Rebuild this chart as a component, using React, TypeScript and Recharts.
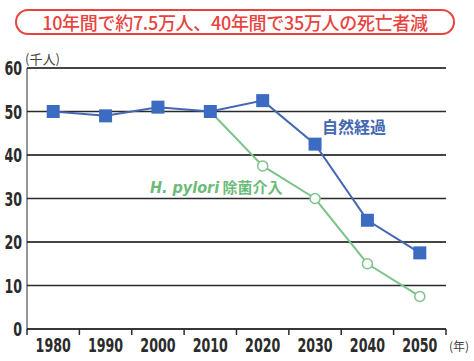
import { LineChart, Line, XAxis, YAxis, CartesianGrid, ReferenceLine } from 'recharts';

const YEARS = ['1980', '1990', '2000', '2010', '2020', '2030', '2040', '2050'];
const NATURAL = [50, 49, 51, 50, 52.5, 42.5, 25, 17.5];
const ERADICATION = [null, null, null, 50, 37.5, 30, 15, 7.5];
const Y_TICKS = [0, 10, 20, 30, 40, 50, 60];

const BLUE = '#4467b2';
const BLUE_MARK = '#3b6cc2';
const GREEN = '#7cc48a';
const RED = '#e8433e';
const INK = '#2b2b2b';
const NUM_FONT = "'DejaVu Sans Condensed', 'DejaVu Sans', sans-serif";
const JP_FONT = "'Noto Sans CJK JP', sans-serif";
const HALF_STEP = 26.2; // half a category band, where the boundary ticks sit

const data = YEARS.map((year, i) => ({ year, natural: NATURAL[i], eradication: ERADICATION[i] }));

const SquareDot = (props: any) => {
  const { cx, cy } = props;
  if (cx == null || cy == null) return null;
  return <rect x={cx - 6.5} y={cy - 6.5} width={13} height={13} fill={BLUE_MARK} />;
};

const YearTick = (props: any) => {
  const { x, y, payload, index } = props;
  const label = String(payload.value);
  return (
    <g>
      <line x1={x - HALF_STEP} y1={y} x2={x - HALF_STEP} y2={y + 6} stroke={INK} strokeWidth={1.5} />
      {index === YEARS.length - 1 && (
        <line x1={x + HALF_STEP} y1={y} x2={x + HALF_STEP} y2={y + 6} stroke={INK} strokeWidth={1.5} />
      )}
      <text
        x={x}
        y={y + 23}
        textAnchor="middle"
        fill={INK}
        fontFamily={NUM_FONT}
        fontWeight={700}
        fontSize={19}
        textLength={label.length * 8.8}
        lengthAdjust="spacingAndGlyphs"
      >
        {label}
      </text>
    </g>
  );
};

const ValueTick = (props: any) => {
  const { x, y, payload } = props;
  const label = String(payload.value);
  return (
    <text
      x={x}
      y={y + 7}
      textAnchor="end"
      fill={INK}
      fontFamily={NUM_FONT}
      fontWeight={700}
      fontSize={19}
      textLength={label.length * 8.8}
      lengthAdjust="spacingAndGlyphs"
    >
      {label}
    </text>
  );
};

export default function App() {
  return (
    <div style={{ position: 'absolute', left: 0, top: 0, width: 474, height: 361, background: '#fff' }}>
      <LineChart width={474} height={361} data={data} margin={{ top: 68, right: 28, bottom: 0, left: 0 }}>
        <CartesianGrid vertical={false} stroke={INK} />
        {Y_TICKS.map((v) => (
          <ReferenceLine key={v} y={v} stroke={INK} strokeWidth={1.5} />
        ))}
        <XAxis
          dataKey="year"
          height={32}
          padding={{ left: HALF_STEP, right: HALF_STEP }}
          stroke={INK}
          tickLine={false}
          tickSize={0}
          tickMargin={0}
          tick={<YearTick />}
          interval={0}
        />
        <YAxis
          width={27}
          domain={[0, 60]}
          ticks={Y_TICKS}
          stroke={INK}
          tickLine={false}
          tickSize={0}
          tickMargin={5}
          tick={<ValueTick />}
        />
        <Line
          dataKey="eradication"
          stroke={GREEN}
          strokeWidth={2}
          dot={{ r: 5, fill: '#fff', stroke: GREEN, strokeWidth: 1.5 }}
          connectNulls={false}
          isAnimationActive={false}
        />
        <Line
          dataKey="natural"
          stroke={BLUE}
          strokeWidth={2}
          dot={<SquareDot />}
          isAnimationActive={false}
        />
      </LineChart>
      <div
        style={{
          position: 'absolute', left: 15, top: 9, width: 436, height: 22,
          border: `2px solid ${RED}`, borderRadius: 13,
          color: RED, fontFamily: JP_FONT, fontWeight: 500, fontSize: 18,
          lineHeight: '22px', textAlign: 'center', letterSpacing: -0.3,
        }}
      >
        10年間で約7.5万人、40年間で35万人の死亡者減
      </div>
      <div style={{ position: 'absolute', left: 25, top: 49, fontFamily: JP_FONT, fontSize: 13, color: '#444' }}>
        (千人)
      </div>
      <div style={{ position: 'absolute', left: 449, top: 337, fontFamily: JP_FONT, fontSize: 12, color: '#444' }}>
        (年)
      </div>
      <div style={{ position: 'absolute', left: 322, top: 114, fontFamily: JP_FONT, fontWeight: 700, fontSize: 16, color: BLUE }}>
        自然経過
      </div>
      <div style={{ position: 'absolute', left: 150, top: 176, fontFamily: JP_FONT, fontWeight: 700, fontSize: 15, color: '#6cbb78' }}>
        <i style={{ fontFamily: NUM_FONT, fontSize: 16 }}>H. pylori</i> 除菌介入
      </div>
    </div>
  );
}
